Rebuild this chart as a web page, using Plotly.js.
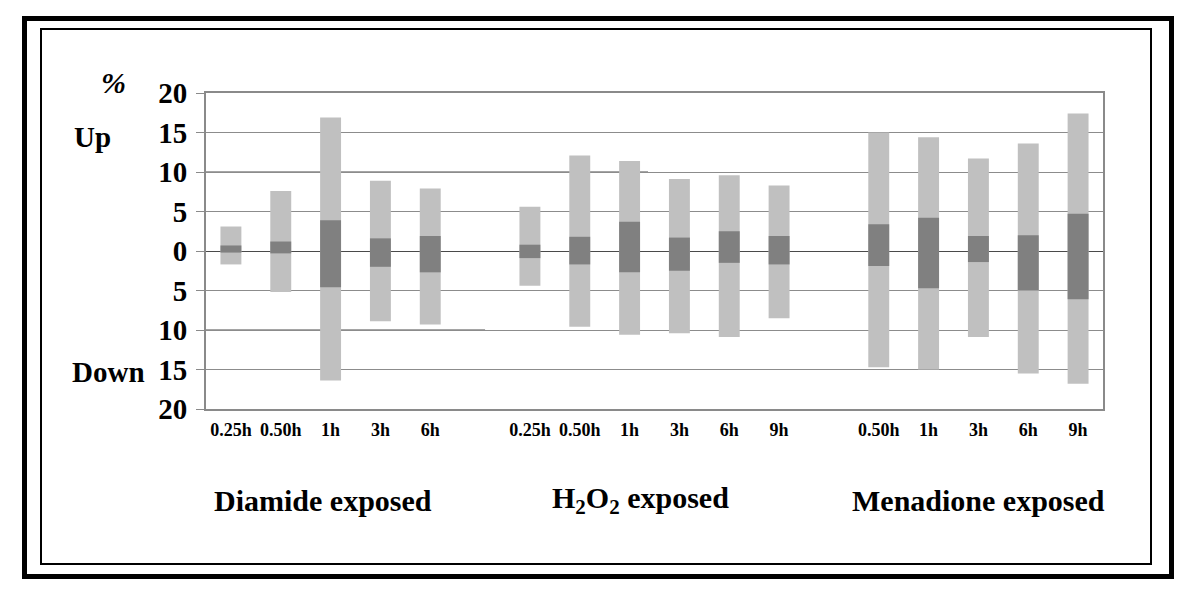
<!DOCTYPE html>
<html>
<head>
<meta charset="utf-8">
<script src="https://cdn.plot.ly/plotly-3.0.1.min.js"></script>
<style>
  html, body { margin: 0; padding: 0; background: #fff; }
  #wrap { position: relative; width: 1200px; height: 600px; }
  #chart { position: absolute; left: 0; top: 0; width: 1200px; height: 600px; }
  .frame { position: absolute; box-sizing: border-box; pointer-events: none; }
  #outer { left: 22px; top: 16px; width: 1152px; height: 563px; border: 5px solid #000; }
  #inner { left: 40px; top: 28px; width: 1112px; height: 537px; border: 2px solid #000; }
</style>
</head>
<body>
<div id="wrap">
  <div id="chart"></div>
  <div id="outer" class="frame"></div>
  <div id="inner" class="frame"></div>
</div>
<script>
// Category slots (blank slots separate the three exposure groups)
const timeLabels = ["0.25h","0.50h","1h","3h","6h","", "0.25h","0.50h","1h","3h","6h","9h","", "0.50h","1h","3h","6h","9h"];

// Light bars: total range (% up, % down as negative)
const totalUp   = [3.1, 7.6, 16.9, 8.9, 7.9, null, 5.6, 12.1, 11.4, 9.1, 9.6, 8.3, null, 15.0, 14.4, 11.7, 13.6, 17.4];
const totalDown = [-1.7, -5.2, -16.4, -8.9, -9.3, null, -4.4, -9.6, -10.6, -10.4, -10.9, -8.5, null, -14.7, -15.0, -10.9, -15.5, -16.8];

// Dark bars: inner range
const coreUp    = [0.7, 1.2, 3.9, 1.6, 1.9, null, 0.8, 1.8, 3.7, 1.7, 2.5, 1.9, null, 3.4, 4.2, 1.9, 2.0, 4.7];
const coreDown  = [-0.2, -0.3, -4.6, -2.0, -2.7, null, -0.9, -1.7, -2.7, -2.5, -1.5, -1.7, null, -1.9, -4.7, -1.4, -5.0, -6.1];

// Group titles and their centre positions (in slot units)
const groupNames = ["Diamide exposed", "H<sub>2</sub>O<sub>2</sub> exposed", "Menadione exposed"];
const groupCentres = [1.84, 8.22, 15.0];

const yTickVals = [-20, -15, -10, -5, 0, 5, 10, 15, 20];
const yTickText = ["20", "15", "10", "5", "0", "5", "10", "15", "20"];

// Gridlines that are drawn darker in the original, up to a slot position
const darkGridLevels = [10, -5, -10, -15];
const darkGridEnds   = [8.37, 14.97, 5.1, 12.8];

const slots = timeLabels.map((_, i) => i);
const span = (a, b) => a.map((v, i) => (v === null || b[i] === null) ? null : v - b[i]);

const serif = "Liberation Serif";

const traces = [
  {
    type: "bar", x: slots, y: span(totalUp, totalDown), base: totalDown,
    width: 0.42, marker: { color: "#c0c0c0" }, hoverinfo: "skip", showlegend: false
  },
  {
    type: "bar", x: slots, y: span(coreUp, coreDown), base: coreDown,
    width: 0.42, marker: { color: "#808080" }, hoverinfo: "skip", showlegend: false
  }
];

const shapes = darkGridLevels.map((lv, i) => ({
  type: "line", layer: "below", xref: "x", yref: "y",
  x0: -0.5, x1: darkGridEnds[i], y0: lv, y1: lv,
  line: { color: "#4a4a4a", width: 1 }
}));

const annotations = groupNames.map((t, i) => ({
  text: "<b>" + t + "</b>", x: groupCentres[i], xref: "x", y: -0.288, yref: "paper",
  xanchor: "center", yanchor: "middle", showarrow: false,
  font: { family: serif, size: 30, color: "#000" }
}));
annotations.push(
  { text: "<b>Up</b>", x: -0.1497, xref: "paper", y: 14.4, yref: "y", xanchor: "left", yanchor: "middle",
    showarrow: false, font: { family: serif, size: 29, color: "#000" } },
  { text: "<b>Down</b>", x: -0.1516, xref: "paper", y: -15.3, yref: "y", xanchor: "left", yanchor: "middle",
    showarrow: false, font: { family: serif, size: 29, color: "#000" } },
  { text: "<b><i>%</i></b>", x: -0.103, xref: "paper", y: 1.032, yref: "paper", xanchor: "center", yanchor: "middle",
    showarrow: false, font: { family: serif, size: 30, color: "#000" } }
);

const layout = {
  width: 1200, height: 600,
  margin: { l: 206, r: 97, t: 93, b: 191, pad: 0 },
  paper_bgcolor: "#fff", plot_bgcolor: "#fff",
  barmode: "overlay",
  showlegend: false,
  xaxis: {
    range: [-0.5, 17.5], tickmode: "array", tickvals: slots, ticktext: timeLabels,
    showgrid: false, zeroline: false, ticks: "",
    showline: true, mirror: true, linecolor: "#8a8a8a", linewidth: 2,
    tickfont: { family: serif, size: 18, color: "#000", weight: "bold" },
    ticklabelstandoff: 3
  },
  yaxis: {
    range: [-20, 20], tickmode: "array", tickvals: yTickVals, ticktext: yTickText,
    showgrid: true, gridcolor: "#8c8c8c", gridwidth: 1,
    zeroline: true, zerolinecolor: "#4a4a4a", zerolinewidth: 1,
    ticks: "outside", ticklen: 8, tickcolor: "#8a8a8a", tickwidth: 1,
    showline: true, mirror: true, linecolor: "#8a8a8a", linewidth: 2,
    tickfont: { family: serif, size: 29, color: "#000", weight: "bold" },
    ticklabelstandoff: 3
  },
  shapes: shapes,
  annotations: annotations
};

Plotly.newPlot("chart", traces, layout, { staticPlot: true, displayModeBar: false });
</script>
</body>
</html>
